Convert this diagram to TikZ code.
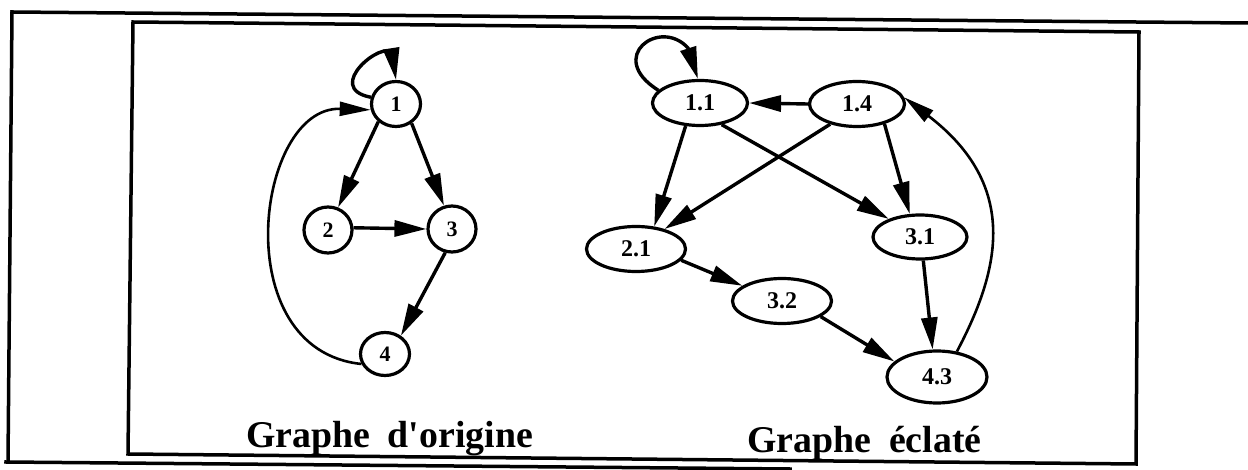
\documentclass[tikz,border=0pt]{standalone}
\usepackage{fontspec}
\setmainfont{Liberation Serif}
\usetikzlibrary{arrows.meta,shapes.geometric}
\begin{document}
\begin{tikzpicture}[x=1pt,y=-1pt,
  frame/.style={line width=3.5pt, line cap=rect},
  vtx/.style={draw, ellipse, line width=3.2pt, inner sep=0pt, font=\fontsize{24}{24}\selectfont\bfseries},
  lvtx/.style={vtx, font=\fontsize{22}{22}\selectfont\bfseries},
  edge/.style={line width=3.4pt, -{Triangle[length=32pt,width=16pt]}},
  thinedge/.style={line width=2.6pt, -{Triangle[length=31pt,width=14pt]}},
  title/.style={font=\fontsize{37.8}{40}\selectfont\bfseries, anchor=base, inner sep=0pt}
]
\useasboundingbox (0,0) rectangle (1248,470);
\fill[white] (0,0) rectangle (1248,470);
% outer frame
\draw[frame] (12,12) -- (1248,23);
\draw[frame] (12,12) -- (8,462);
\draw[frame] (6,462) -- (790,469);
% inner frame
\draw[frame] (133,22) -- (1139,32) -- (1136,464) -- (128,454) -- cycle;
% left graph
\node[lvtx, minimum width=49pt, minimum height=45pt] (n1) at (396,104) {1};
\node[lvtx, minimum width=48pt, minimum height=46pt] (n2) at (328,230) {2};
\node[lvtx, minimum width=48pt, minimum height=46pt] (n3) at (452,229) {3};
\node[lvtx, minimum width=49pt, minimum height=43pt] (n4) at (385,354) {4};
\coordinate (l1) at (392,54);
\draw[edge] (n1.225) -- (n2.66);
\draw[edge] (n1.309) -- (n3.109);
\draw[edge] (n2.5) -- (n3.180);
\draw[edge] (n3.254) -- (n4.49);
\draw[thinedge] (n4.203) .. controls (225,350) and (256,106) .. (n1.193);
\draw[edge] (n1.165) .. controls (322,88) and (385,38) .. (l1) -- (n1.90);
% right graph
\node[vtx, minimum width=95pt, minimum height=45pt] (n11) at (700,103) {1.1};
\node[vtx, minimum width=95pt, minimum height=45pt] (n14) at (857,104) {1.4};
\node[vtx, minimum width=99pt, minimum height=45pt] (n21) at (636,249) {2.1};
\node[vtx, minimum width=94pt, minimum height=44pt] (n31) at (920,237) {3.1};
\node[vtx, minimum width=99pt, minimum height=45pt] (n32) at (782,301) {3.2};
\node[vtx, minimum width=100pt, minimum height=52pt] (n43) at (937,377) {4.3};
\coordinate (l2) at (688,48);
\draw[edge] (n11.163) .. controls (605,57) and (660,17) .. (l2) -- (n11.95);
\draw[edge] (n14.180) -- (n11.0);
\draw[edge] (n11.238) -- (n21.51);
\draw[edge] (n11.315) -- (n31.150);
\draw[edge] (n14.217) -- (n21.35);
\draw[edge] (n14.324) -- (n31.114);
\draw[edge] (n21.346) -- (n32.159);
\draw[edge] (n32.338) -- (n43.160);
\draw[edge] (n31.278) -- (n43.99);
\draw[thinedge] (n43.52) .. controls (1000,270) and (1020,186) .. (n14.8);
% titles
\node[title] (t1) at (389.5,447) {Graphe\hspace{0.47em}d\textquotesingle origine};
\node[title] (t2) at (864.5,452) {Graphe\hspace{0.47em}éclaté};
\end{tikzpicture}
\end{document}
